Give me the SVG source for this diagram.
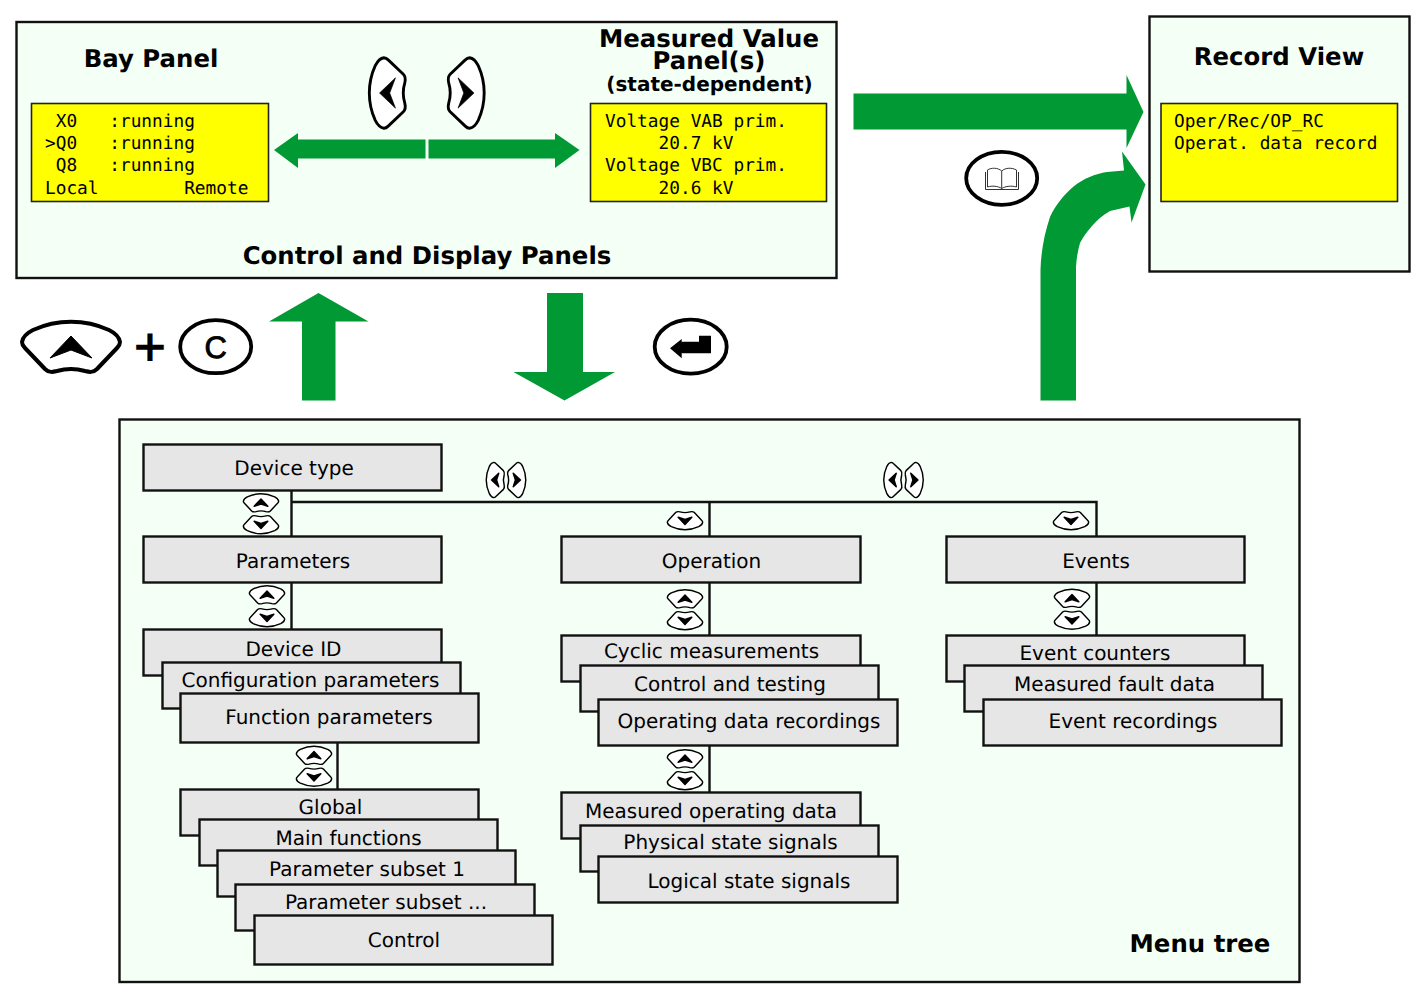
<svg xmlns="http://www.w3.org/2000/svg" width="1419" height="1003" viewBox="0 0 1419 1003">
  <style>
    text { text-rendering: geometricPrecision; }
    .panel { fill: #f4fff6; stroke: #111; stroke-width: 2.4; }
    .lcd { fill: #ffff00; stroke: #222; stroke-width: 1.6; }
    .box { fill: #e6e6e6; stroke: #111; stroke-width: 2.4; }
    .wire { fill: none; stroke: #111; stroke-width: 2.4; }
    .flow { fill: #009933; }
    .round { fill: #fff; stroke: #000; stroke-width: 3.8; }
    .keycap { fill: #fff; stroke: #000; stroke-width: 4; stroke-linejoin: round; }
    .title { font: bold 24.4px "DejaVu Sans", sans-serif; fill: #000; text-anchor: middle; }
    .sub { font: bold 20px "DejaVu Sans", sans-serif; fill: #000; text-anchor: middle; }
    .mono { font: 17.8px "DejaVu Sans Mono", monospace; fill: #000; white-space: pre; }
    .item { font: 20px "DejaVu Sans", sans-serif; fill: #000; text-anchor: middle; }
  </style>
  <defs>
    <path id="cap" class="keycap" d="M-49,-5 C-48,-12 -42,-15 -38,-17 C-14,-28 14,-28 38,-17 C42,-15 48,-12 49,-5 C49,-2 48,-1 46,1 L26,22 C22,26 18,25 14,24 C4,21 -4,21 -14,24 C-18,25 -22,26 -26,22 L-46,1 C-48,-1 -49,-2 -49,-5 Z"/>
    <g id="key-up">
      <use href="#cap"/>
      <path d="M0,-11 L21,11 L0,3 L-21,11 Z" stroke="#000" stroke-width="1"/>
    </g>
    <!-- small variant: heavier chevron so it holds up at reduced scale -->
    <g id="key-up-small">
      <use href="#cap"/>
      <path d="M0,-11 L19,9 L0,3 L-19,9 Z" stroke="#000" stroke-width="4" stroke-linejoin="round"/>
    </g>
  </defs>

  <g id="control-panels">
    <rect class="panel" x="16.500" y="22" width="820" height="256"/>
    <text class="title" x="151" y="67">Bay Panel</text>
    <text class="title" x="709" y="47">Measured Value</text>
    <text class="title" x="709" y="69">Panel(s)</text>
    <text class="sub" x="709.500" y="91">(state-dependent)</text>
    <text class="title" x="427" y="264">Control and Display Panels</text>
  </g>
  <g id="bay-lcd">
    <rect class="lcd" x="31.500" y="103.500" width="237" height="98"/>
    <text class="mono" x="45" y="127"> X0   :running</text>
    <text class="mono" x="45" y="149">&gt;Q0   :running</text>
    <text class="mono" x="45" y="171"> Q8   :running</text>
    <text class="mono" x="45" y="194">Local        Remote</text>
  </g>
  <g id="measured-lcd">
    <rect class="lcd" x="590.500" y="103.500" width="236" height="98"/>
    <text class="mono" x="605" y="127">Voltage VAB prim.</text>
    <text class="mono" x="605" y="149">     20.7 kV</text>
    <text class="mono" x="605" y="171">Voltage VBC prim.</text>
    <text class="mono" x="605" y="194">     20.6 kV</text>
  </g>
  <g id="record-view">
    <rect class="panel" x="1149.500" y="16.500" width="260" height="255"/>
    <text class="title" x="1279" y="65">Record View</text>
    <rect class="lcd" x="1161" y="103.500" width="236.500" height="98"/>
    <text class="mono" x="1174" y="127">Oper/Rec/OP_RC</text>
    <text class="mono" x="1174" y="149">Operat. data record</text>
  </g>
  <g id="menu-tree">
    <rect class="panel" x="119.500" y="419.500" width="1180" height="562.500"/>
    <text class="title" x="1200" y="952">Menu tree</text>
  </g>

  <g id="flow-arrows">
    <path class="flow" d="M274,150 L298,133 V139.500 H425.500 V158.500 H298 V168 Z"/>
    <path class="flow" d="M579.500,150 L555,133 V139.500 H428.500 V158.500 H555 V168 Z"/>
    <path class="flow" d="M318.500,293 L368.500,321.500 H335.500 V400.500 H302 V321.500 H269 Z"/>
    <path class="flow" d="M564.500,400.500 L615,372 H583 V293 H547 V372 H513.500 Z"/>
    <path class="flow" d="M853.500,93.500 H1126.500 V75 L1143.500,112 L1126.500,148 V129.500 H853.500 Z"/>
    <path class="flow" d="M1040.500,400.500 V270 C1041,250 1045,232 1050,217 C1056,204 1064,195 1073,187 C1084,178 1095,174 1107,172 L1124,170.500 L1122,151.500 L1145.500,184.500 L1131.500,222.500 L1129.500,206.500 L1110,211 C1103,215 1097,220 1091.500,226.500 C1087,232 1083,237 1080,243 C1078,250 1076.500,258 1076,267 V400.500 Z"/>
  </g>

  <g id="keys">
    <use href="#key-up" transform="translate(387.500,93) rotate(-90) scale(.72)"/>
    <use href="#key-up" transform="translate(466,93) rotate(90) scale(.72)"/>
    <use href="#key-up" transform="translate(71,347)"/>
    <text x="150" y="361" style="font: bold 44px 'DejaVu Sans', sans-serif; text-anchor: middle;">+</text>
    <ellipse class="round" cx="215.700" cy="346.700" rx="35.500" ry="26.500"/>
    <text x="215.700" y="358" style="font: 31px 'Liberation Sans', sans-serif; text-anchor: middle; stroke: #000; stroke-width: .9;">C</text>
    <ellipse class="round" cx="690.700" cy="346.700" rx="36" ry="27"/>
    <path d="M670,348.300 L681.700,339 V341.700 H699 V335.700 H711 V353.300 H681.700 V358.300 Z"/>
    <ellipse class="round" cx="1001.700" cy="178.300" rx="35.500" ry="26.500"/>
    <path d="M987.500,187 V170 C991,167.500 998,167.500 1001.700,171 C1005.500,167.500 1012,167.500 1016.500,170 V187 M1001.700,171 V188.500 M987.500,187 C992,185.500 998,186 1001.700,188.500 C1005.500,186 1012,185.500 1016.500,187 M985.500,172 V189.500 H1018.500 V172" fill="none" stroke="#333" stroke-width="1"/>
  </g>

  <g id="connectors">
    <path class="wire" d="M291.500,490 V537 M291.500,582 V629 M291.500,502 H1096.500 V537 M709.500,502 V537 M709.500,582 V636 M1096.500,582 V635 M337.500,742 V789 M709.500,745 V792"/>
  </g>

  <g id="tree-keys">
    <use href="#key-up-small" transform="translate(495.500,480) rotate(-90) scale(.36)"/>
    <use href="#key-up-small" transform="translate(516.500,480) rotate(90) scale(.36)"/>
    <use href="#key-up-small" transform="translate(893,480) rotate(-90) scale(.36)"/>
    <use href="#key-up-small" transform="translate(914,480) rotate(90) scale(.36)"/>
    <use href="#key-up-small" transform="translate(261,503) scale(.36)"/>
    <use href="#key-up-small" transform="translate(261,524.500) rotate(180) scale(.36)"/>
    <use href="#key-up-small" transform="translate(267,595) scale(.36)"/>
    <use href="#key-up-small" transform="translate(267,617.500) rotate(180) scale(.36)"/>
    <use href="#key-up-small" transform="translate(314,755.500) scale(.36)"/>
    <use href="#key-up-small" transform="translate(314,777) rotate(180) scale(.36)"/>
    <use href="#key-up-small" transform="translate(685,520.500) rotate(180) scale(.36)"/>
    <use href="#key-up-small" transform="translate(1071,520.500) rotate(180) scale(.36)"/>
    <use href="#key-up-small" transform="translate(685,599) scale(.36)"/>
    <use href="#key-up-small" transform="translate(685,620.500) rotate(180) scale(.36)"/>
    <use href="#key-up-small" transform="translate(1072,598.500) scale(.36)"/>
    <use href="#key-up-small" transform="translate(1072,620) rotate(180) scale(.36)"/>
    <use href="#key-up-small" transform="translate(685,759) scale(.36)"/>
    <use href="#key-up-small" transform="translate(685,780.500) rotate(180) scale(.36)"/>
  </g>

  <g id="device-type"><rect class="box" x="143.500" y="444.500" width="298" height="46"/><text class="item" x="294" y="475">Device type</text></g>
  <g id="parameters"><rect class="box" x="143.500" y="536.500" width="298" height="46"/><text class="item" x="293" y="568">Parameters</text></g>
  <g id="device-id"><rect class="box" x="143.500" y="629.500" width="298" height="46"/><text class="item" x="293.500" y="656">Device ID</text></g>
  <g id="configuration-parameters"><rect class="box" x="162.500" y="662.500" width="298" height="46"/><text class="item" x="310.500" y="687">Configuration parameters</text></g>
  <g id="function-parameters"><rect class="box" x="180.500" y="693.500" width="298" height="49"/><text class="item" x="329" y="724">Function parameters</text></g>
  <g id="global"><rect class="box" x="180.500" y="789.500" width="298" height="46"/><text class="item" x="330.500" y="814">Global</text></g>
  <g id="main-functions"><rect class="box" x="199.500" y="819.500" width="298" height="46"/><text class="item" x="348.500" y="845">Main functions</text></g>
  <g id="parameter-subset-1"><rect class="box" x="217.500" y="850.500" width="298" height="46"/><text class="item" x="367" y="876">Parameter subset 1</text></g>
  <g id="parameter-subset-n"><rect class="box" x="235.500" y="884.500" width="299" height="46"/><text class="item" x="386" y="909">Parameter subset ...</text></g>
  <g id="control"><rect class="box" x="254.500" y="915.500" width="298" height="49"/><text class="item" x="404" y="947">Control</text></g>

  <g id="operation"><rect class="box" x="561.500" y="536.500" width="299" height="46"/><text class="item" x="711.500" y="568">Operation</text></g>
  <g id="cyclic-measurements"><rect class="box" x="561.500" y="635.500" width="299" height="46"/><text class="item" x="711.500" y="658">Cyclic measurements</text></g>
  <g id="control-and-testing"><rect class="box" x="580.500" y="665.500" width="298" height="46"/><text class="item" x="730" y="691">Control and testing</text></g>
  <g id="operating-data-recordings"><rect class="box" x="598.500" y="699.500" width="299" height="46"/><text class="item" x="749" y="728">Operating data recordings</text></g>
  <g id="measured-operating-data"><rect class="box" x="561.500" y="792.500" width="299" height="46"/><text class="item" x="711" y="818">Measured operating data</text></g>
  <g id="physical-state-signals"><rect class="box" x="580.500" y="825.500" width="298" height="46"/><text class="item" x="730.500" y="849">Physical state signals</text></g>
  <g id="logical-state-signals"><rect class="box" x="598.500" y="856.500" width="299" height="46"/><text class="item" x="749" y="888">Logical state signals</text></g>

  <g id="events"><rect class="box" x="946.500" y="536.500" width="298" height="46"/><text class="item" x="1096" y="568">Events</text></g>
  <g id="event-counters"><rect class="box" x="946.500" y="635.500" width="298" height="46"/><text class="item" x="1095" y="660">Event counters</text></g>
  <g id="measured-fault-data"><rect class="box" x="964.500" y="665.500" width="298" height="46"/><text class="item" x="1114.500" y="691">Measured fault data</text></g>
  <g id="event-recordings"><rect class="box" x="983.500" y="699.500" width="298" height="46"/><text class="item" x="1133" y="728">Event recordings</text></g>
</svg>
